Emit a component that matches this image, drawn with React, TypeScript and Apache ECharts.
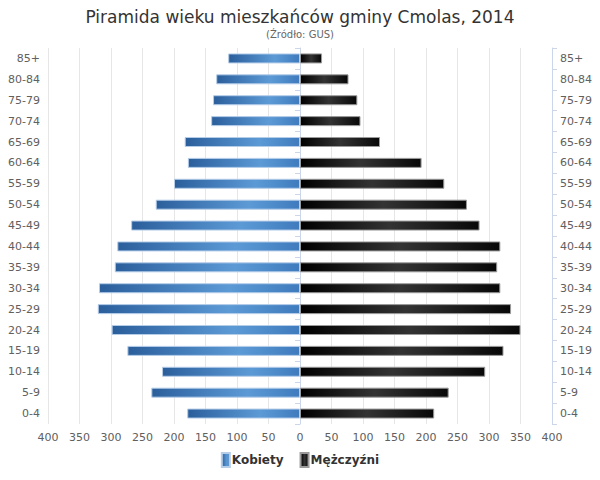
import React, { useEffect, useRef } from "react";
import * as echarts from "echarts";

const categories = ["0-4", "5-9", "10-14", "15-19", "20-24", "25-29", "30-34", "35-39", "40-44", "45-49", "50-54", "55-59", "60-64", "65-69", "70-74", "75-79", "80-84", "85+"];
const women = [179, 236, 219, 274, 299, 321, 319, 294, 290, 268, 229, 200, 178, 183, 141, 138, 133, 114];
const men = [213, 236, 294, 323, 350, 335, 318, 313, 318, 285, 265, 229, 193, 127, 96, 91, 77, 35];
const xTicks = { min: -400, max: 400, interval: 50 };

const FONT = "DejaVu Sans";

export default function App() {
  const ref = useRef<HTMLDivElement>(null);
  useEffect(() => {
    if (!ref.current) return;
    const chart = echarts.init(ref.current, null, { renderer: "svg" });
    const blue = new echarts.graphic.LinearGradient(0, 0, 1, 0, [
      { offset: 0, color: "#2b5f9c" },
      { offset: 0.65, color: "#5c9ad6" },
      { offset: 1, color: "#3f7bbd" },
    ]);
    const black = new echarts.graphic.LinearGradient(0, 0, 1, 0, [
      { offset: 0, color: "#000000" },
      { offset: 0.5, color: "#333333" },
      { offset: 1, color: "#080808" },
    ]);
    const yAxisCommon = {
      type: "category" as const,
      data: categories,
      axisLine: { show: true, lineStyle: { color: "#ccd6eb" } },
      axisTick: { show: true, length: 5, lineStyle: { color: "#ccd6eb" } },
      axisLabel: { color: "#606060", fontSize: 11, fontFamily: FONT, margin: 8 },
      splitLine: { show: false },
    };
    chart.setOption({
      animation: false,
      title: {
        text: "Piramida wieku mieszkańców gminy Cmolas, 2014",
        subtext: "(Źródło: GUS)",
        left: "center",
        top: 3,
        itemGap: 4,
        textStyle: { fontFamily: FONT, fontSize: 17, fontWeight: "normal", color: "#333333" },
        subtextStyle: { fontFamily: FONT, fontSize: 10, color: "#666666" },
      },
      legend: {
        bottom: 7,
        itemWidth: 8,
        itemHeight: 14,
        itemGap: 16,
        icon: "rect",
        textStyle: { fontFamily: FONT, fontSize: 12, fontWeight: "bold", color: "#333333", padding: [0, 0, 0, -3] },
        data: ["Kobiety", "Mężczyźni"],
      },
      grid: { left: 48, right: 48, top: 48, bottom: 56, containLabel: false },
      xAxis: {
        type: "value",
        min: xTicks.min,
        max: xTicks.max,
        interval: xTicks.interval,
        axisLine: { show: false },
        axisTick: { show: false },
        axisLabel: {
          color: "#606060",
          fontSize: 11,
          fontFamily: FONT,
          margin: 8,
          formatter: (v: number) => String(Math.abs(v)),
        },
        splitLine: { show: true, lineStyle: { color: "#e6e6e6" } },
      },
      yAxis: [
        { ...yAxisCommon, position: "left" },
        { ...yAxisCommon, position: "right" },
      ],
      series: [
        {
          name: "Kobiety",
          type: "bar",
          yAxisIndex: 0,
          data: women.map((v) => -v),
          barWidth: 10,
          barGap: "-100%",
          itemStyle: { color: blue, borderColor: "#b5cde9", borderWidth: 1 },
        },
        {
          name: "Mężczyźni",
          type: "bar",
          yAxisIndex: 0,
          data: men,
          barWidth: 10,
          barGap: "-100%",
          itemStyle: { color: black, borderColor: "#9a9a9a", borderWidth: 1 },
        },
      ],
    });
    return () => chart.dispose();
  }, []);
  return <div ref={ref} style={{ width: 600, height: 480, margin: -8 }} />;
}
